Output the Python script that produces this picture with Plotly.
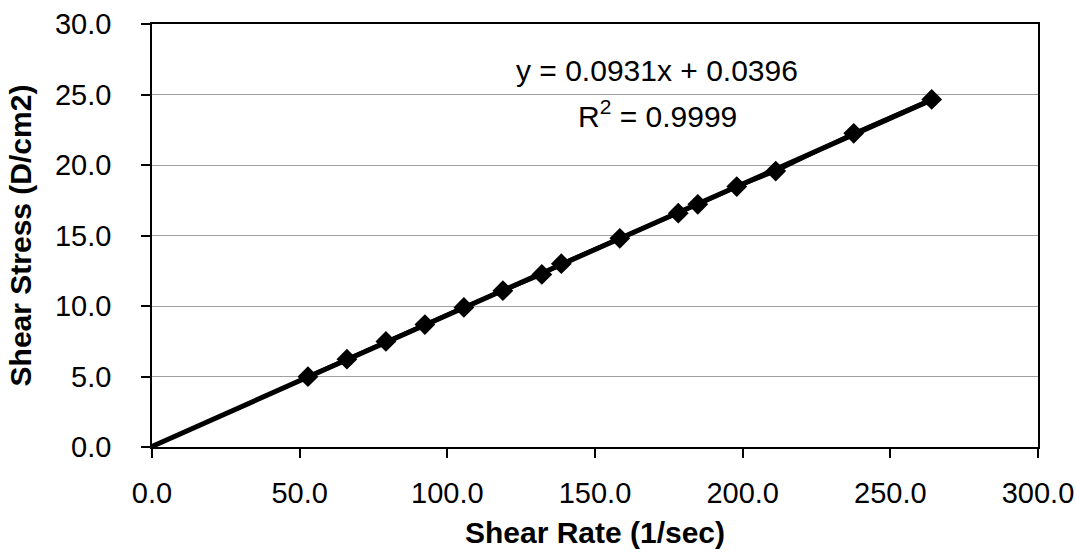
import plotly.graph_objects as go

# Data
shear_rate = [52.8, 66.0, 79.2, 92.4, 105.6, 118.8, 132.0, 138.6, 158.4,
              178.2, 184.8, 198.0, 211.2, 237.6, 264.0]
shear_stress = [4.99, 6.23, 7.49, 8.68, 9.90, 11.09, 12.24, 13.00, 14.80,
                16.58, 17.21, 18.47, 19.57, 22.25, 24.65]

# Linear trendline (as printed on the chart)
slope = 0.0931
intercept = 0.0396
r_squared = 0.9999
trend_x = [0.0, 264.0]
trend_y = [slope * v + intercept for v in trend_x]

x_ticks = [0, 50, 100, 150, 200, 250, 300]
y_ticks = [0, 5, 10, 15, 20, 25, 30]

FONT = "Liberation Sans, Arial, sans-serif"

fig = go.Figure()
fig.add_trace(go.Scatter(
    x=trend_x, y=trend_y, mode="lines",
    line=dict(color="black", width=5), showlegend=False, hoverinfo="skip"))
fig.add_trace(go.Scatter(
    x=shear_rate, y=shear_stress, mode="lines+markers",
    line=dict(color="black", width=4),
    marker=dict(symbol="diamond", size=16, color="black"),
    showlegend=False))

fig.add_annotation(
    x=171, y=26.7, xref="x", yref="y",
    text=f"y = {slope:.4f}x + {intercept:.4f}", showarrow=False,
    font=dict(size=30, family=FONT, color="black"))
fig.add_annotation(
    x=171, y=23.6, xref="x", yref="y",
    text=f"R<sup>2</sup> = {r_squared:.4f}", showarrow=False,
    font=dict(size=30, family=FONT, color="black"))

fig.update_layout(
    width=1076, height=560,
    margin=dict(l=152, r=38, t=24, b=113, autoexpand=False),
    paper_bgcolor="white", plot_bgcolor="white",
    font=dict(family=FONT, size=29, color="black"),
    xaxis=dict(
        range=[0, 300], tickvals=x_ticks,
        ticktext=[f"{v:.1f}" for v in x_ticks],
        showgrid=False, zeroline=False, automargin=False,
        showline=True, linecolor="black", linewidth=1.5, mirror=True,
        ticks="outside", ticklen=9, tickcolor="black", tickwidth=1.5,
        ticklabelstandoff=10,
        title=dict(text="<b>Shear Rate (1/sec)</b>", font=dict(size=30),
                   standoff=14),
    ),
    yaxis=dict(
        range=[0, 30], tickvals=y_ticks,
        ticktext=[f"{v:.1f}" for v in y_ticks],
        showgrid=True, gridcolor="#a0a0a0", gridwidth=1, zeroline=False,
        automargin=False,
        showline=True, linecolor="black", linewidth=1.5, mirror=True,
        ticks="outside", ticklen=9, tickcolor="black", tickwidth=1.5,
        ticklabelstandoff=24,
        title=dict(text="<b>Shear Stress (D/cm2)</b>", font=dict(size=30),
                   standoff=14),
    ),
)

fig.write_html("out.html")
